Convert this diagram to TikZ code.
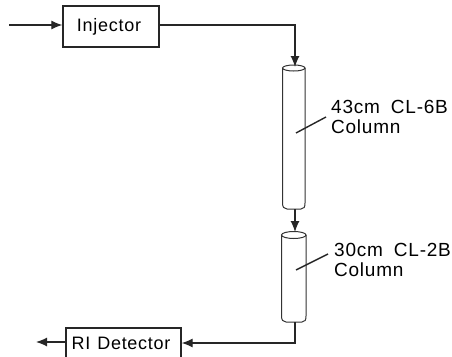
\documentclass[tikz,border=0pt]{standalone}
\usepackage{fontspec}
\setmainfont{Liberation Sans}
\usetikzlibrary{arrows.meta}
\tikzset{
  x=1pt,y=-1pt,
  wire/.style={line width=1.2pt,black!85},
  flow/.style={wire,-{Latex[length=11pt,width=9pt]}},
  boxnode/.style={draw=black!85,line width=1.3pt,minimum height=41pt,inner sep=0pt,font=\fontsize{18}{18}\selectfont\addfontfeatures{LetterSpace=4}},
  lbl/.style={anchor=west,align=left,inner sep=0pt,font=\fontsize{19}{20}\selectfont\addfontfeatures{LetterSpace=4}},
  colwall/.style={line width=1pt,black!80}
}
\begin{document}
\begin{tikzpicture}
\useasboundingbox (0,0) rectangle (452,356);
\clip (0,0) rectangle (452,356);
\node[boxnode,minimum width=96pt] (inj) at (111,26.5) {\hspace{-4pt}Injector};
\node[boxnode,minimum width=115pt,minimum height=30pt] (det) at (123.5,343) {\hspace{-5pt}RI\hspace{7pt}Detector};
% columns
\coordinate (c1t) at (295,67);
\coordinate (c1b) at (295,209);
\coordinate (c2t) at (295,232);
\coordinate (c2b) at (295,322);
\draw[colwall] (282.5,68) -- (282.5,203) .. controls (282.5,207) and (284,209) .. (287,209) -- (301,209) .. controls (304,209) and (305,207) .. (305,203) -- (305,68);
\draw[colwall] (293.75,68) ellipse (11.25pt and 3pt);
\draw[colwall] (281.5,235) -- (281.5,316) .. controls (281.5,320) and (283,322) .. (286,322) -- (302,322) .. controls (305,322) and (306,320) .. (306,316) -- (306,235);
\draw[colwall] (293.75,235) ellipse (12.25pt and 3.5pt);
\coordinate (in) at (9,25);
\coordinate (outc) at (295,25);
\coordinate (bend) at (295,343);
\coordinate (outd) at (36,342);
\draw[flow] (in) -- (inj.west |- in);
\draw[flow] (inj.east |- outc) -- (outc) -- (c1t);
\draw[flow] (c1b) -- (c2t);
\draw[flow] (c2b) -- (bend) -- (det.east |- bend);
\draw[flow] (det.west |- outd) -- (outd);
% labels
\node[lbl] (l1) at (331,117) {43cm\hspace{5pt} CL-6B\\Column};
\node[lbl] (l2) at (334,260) {30cm\hspace{5pt} CL-2B\\Column};
\coordinate (p1a) at (326,117);
\coordinate (p1b) at (296,133);
\coordinate (p2a) at (328,254);
\coordinate (p2b) at (296,270);
\draw[wire,line width=1.4pt] (p1a) -- (p1b);
\draw[wire,line width=1.4pt] (p2a) -- (p2b);
\end{tikzpicture}
\end{document}
